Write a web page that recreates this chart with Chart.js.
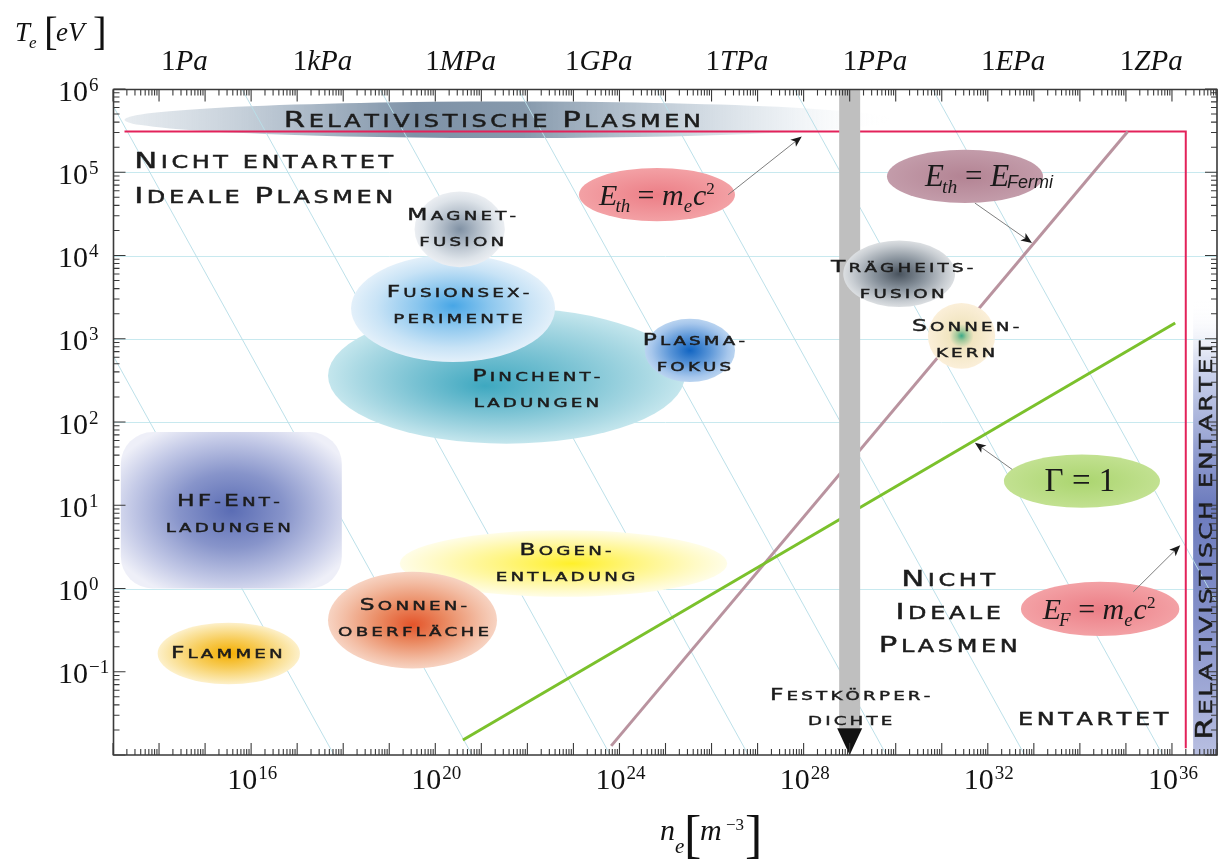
<!DOCTYPE html>
<html>
<head>
<meta charset="utf-8">
<script src="https://cdn.jsdelivr.net/npm/chart.js"></script>
<style>
  html, body { margin: 0; padding: 0; background: #ffffff; overflow: hidden; }
  canvas { display: block; }
</style>
</head>
<body>
<canvas id="plasma" width="1218" height="861" style="width:1218px;height:861px"></canvas>
<script>
const E = p => Math.pow(10, p);

// ---------- axes (decimal exponents) ----------
const densityLimitsExp = [13, 37];            // n_e in m^-3
const temperatureLimitsExp = [-2, 6];         // T_e in eV
const densityLabelExp = [16, 20, 24, 28, 32, 36];
const temperatureLabelExp = [-1, 0, 1, 2, 3, 4, 5, 6];
const temperatureGridExp = [0, 2, 3, 4, 5];
const pressureLabelExp = [0, 3, 6, 9, 12, 15, 18, 21];
const pressurePrefixes = ['', 'k', 'M', 'G', 'T', 'P', 'E', 'Z'];
const onePascalDensityExp = 14.55;            // n_e where the pressure scale reads 1 Pa

// ---------- isobars: n_e * T_e = const ----------
const isobarExp = [15.8, 18.8, 21.8, 24.8, 27.8, 30.8, 33.8, 36.8];

// ---------- boundary lines ----------
const relativisticEdgeN = [13.25, 36.30, 36.30];
const relativisticEdgeT = [5.49, 5.49, -1.92];
const fermiLineN = [23.82, 35.04];
const fermiLineT = [-1.89, 5.49];
const couplingLineN = [20.60, 36.07];
const couplingLineT = [-1.82, 3.19];
const solidDensityExp = 29.0;
const solidMarkerT = [6, -1.68, -2];          // bar top, bar end, arrow tip

// ---------- plasma regions ----------
const regionLabels = [
  'Relativistische Plasmen',
  'Pinchent-|ladungen',
  'Fusionsex-|perimente',
  'Magnet-|fusion',
  'Plasma-|fokus',
  'Trägheits-|fusion',
  'Sonnen-|kern',
  'HF-Ent-|ladungen',
  'Bogen-|entladung',
  'Sonnen-|oberfläche',
  'Flammen'
];
const regionN = [
  [13.25, 29.88], [17.67, 25.42], [18.17, 22.60], [19.55, 21.51], [24.55, 26.51],
  [28.86, 31.29], [30.70, 32.16], [13.17, 17.97], [19.23, 26.34], [17.67, 21.34], [13.97, 17.06]
];
const regionT = [
  [5.41, 5.85], [1.74, 3.37], [2.72, 4.01], [3.86, 4.77], [2.48, 3.24],
  [3.38, 4.18], [2.64, 3.43], [0.00, 1.88], [-0.10, 0.70], [-0.96, 0.20], [-1.15, -0.41]
];
const degenerateBandN = [36.46, 37];
const degenerateBandT = [-2, 3.45];

// ---------- relations with arrows ----------
const relationN = [[23.12, 26.51], [29.81, 33.20], [32.35, 35.74], [32.72, 36.16]];
const relationT = [[4.41, 5.05], [4.63, 5.27], [0.97, 1.61], [-0.57, 0.08]];
const relationArrowFrom = [[26.36, 4.73], [31.72, 4.63], [32.53, 1.43], [35.16, -0.04]];
const relationArrowTo = [[27.96, 5.43], [32.96, 4.15], [31.72, 1.75], [36.18, 0.52]];

// ---------- free area labels ----------
const areaLabels = ['Nicht entartet|Ideale Plasmen', 'Nicht|Ideale|Plasmen', 'entartet', 'Festkörper-|dichte', 'Relativistisch entartet'];
const areaLabelN = [13.46, 31.14, 34.29, 29.01, 36.72];
const areaLabelT = [4.92, -0.29, -1.57, -1.43, 0.58];

// ================= styling =================
const regionStyle = [
  { kind: 'band', dx: -15, dy: 1, text: 'big',
    stops: [[0, 'rgba(215,223,230,0.6)'], [0.2, 'rgba(180,193,206,0.95)'], [0.38, 'rgba(126,146,167,1)'],
            [0.52, 'rgba(134,153,172,1)'], [0.7, 'rgba(186,199,211,0.9)'], [0.87, 'rgba(230,236,241,0.7)'], [1, 'rgba(255,255,255,0)']] },
  { dx: 30, dy: 14, hot: [-0.12, 0.15], stops: [[0, '#3ea8c0'], [0.45, '#79c2d3'], [0.8, '#a8d8e3'], [1, '#c4e6ed']] },
  { dx: 5, dy: -3, hot: [0, -0.05], stops: [[0, '#47a6e6'], [0.35, '#8ac6ee'], [0.75, '#c8e3f6'], [1, '#e3f0fa']] },
  { dx: 2, dy: -1, stops: [[0, '#8091a4'], [0.4, '#b1bcc8'], [0.8, '#dde3e9'], [1, '#ebeef2']] },
  { dx: 4, dy: 3, stops: [[0, '#1265c2'], [0.45, '#5b96d8'], [0.85, '#a7c7ec'], [1, '#bad4f0']] },
  { dx: 3, dy: 7, stops: [[0, '#48525d'], [0.45, '#88929c'], [0.85, '#c8cdd2'], [1, '#dcdfe2']] },
  { dx: 4, dy: 3, stops: [[0, '#3aa987'], [0.14, '#9ec89a'], [0.36, '#f1e5c0'], [1, '#fbefd9']] },
  { kind: 'box', dx: -3, dy: 4, reach: 1.2, stops: [[0, '#5a6cb4'], [0.4, '#8794ca'], [0.75, '#c2c8e6'], [1, '#eeeff8']] },
  { dx: 2, dy: 0, hot: [0.05, 0], stops: [[0, '#fff02a'], [0.4, '#fff57e'], [0.8, '#fffac6'], [1, '#fffde7']] },
  { dx: 1, dy: -2, hot: [0, 0.1], stops: [[0, '#e4542a'], [0.4, '#ea8a62'], [0.8, '#f3bda4'], [1, '#f7d3c2']] },
  { dx: -2, dy: 0, stops: [[0, '#f4ae00'], [0.45, '#f7cb55'], [0.85, '#fbe6a8'], [1, '#fdf0ca']] }
];
const relationFill = [
  [[0, '#ec7e86'], [1, '#f3a1a5']],
  [[0, '#b38393'], [1, '#c39caa']],
  [[0, '#abd56f'], [1, '#c2e191']],
  [[0, '#ec7e86'], [1, '#f3a1a5']]
];
const relationText = [
  { dx: 0, size: 30, segs: [['E', 'i'], ['th', 'i', 'sub', -2], [' = ', 'r'], ['m', 'i'], ['e', 'i', 'sub'], ['c', 'i', null, 1], ['2', 'r', 'sup']] },
  { dx: 24, size: 31, segs: [['E', 'i'], ['th', 'i', 'sub', -2], [' = ', 'r'], ['E', 'i'], ['Fermi', 's', 'low', -2]] },
  { dx: -2, size: 33, segs: [['Γ', 'r'], [' = 1', 'r']] },
  { dx: -1, size: 30, segs: [['E', 'i'], ['F', 'i', 'sub', -2], [' = ', 'r'], ['m', 'i'], ['e', 'i', 'sub'], ['c', 'i', null, 1], ['2', 'r', 'sup']] }
];
const areaStyle = [
  { text: 'big', align: 'left', gap: 35 },
  { text: 'big', gap: 33 },
  { text: 'big' },
  { text: 'small', gap: 25 },
  { text: 'tall', rotate: true }
];
const TEXT = {
  big:   { cap: 16, track: 3.6, stretch: 1.4 },
  small: { cap: 12, track: 3.2, stretch: 1.42 },
  tall:  { cap: 17, track: 2.5, stretch: 1.37 }
};
const SC_FONT = '"DejaVu Sans", "Liberation Sans", sans-serif';
const INK = '#1c1c1c';
const SERIF = '"Liberation Serif", "Times New Roman", serif';

// ================= datasets =================
const pts = (ns, ts) => ns.map((n, i) => ({ x: E(n), y: E(ts[i]) }));
const datasets = [];
isobarExp.forEach(p => {
  datasets.push({
    data: [{ x: E(p - temperatureLimitsExp[1]), y: E(temperatureLimitsExp[1]) },
           { x: E(p - temperatureLimitsExp[0]), y: E(temperatureLimitsExp[0]) }],
    borderColor: 'rgba(184,222,232,0.95)', borderWidth: 1, order: 10
  });
});
datasets.push({ data: pts(relativisticEdgeN, relativisticEdgeT), borderColor: '#e3225a', borderWidth: 2, order: 6 });
datasets.push({ data: pts(fermiLineN, fermiLineT), borderColor: '#b9939f', borderWidth: 3, order: 5 });
datasets.push({ data: pts(couplingLineN, couplingLineT), borderColor: '#7bc12c', borderWidth: 3, order: 4 });
datasets.push({ data: pts([solidDensityExp, solidDensityExp], solidMarkerT.slice(0, 2)),
                borderColor: '#bfbfbf', borderWidth: 21, borderCapStyle: 'butt', order: 1 });

// ================= drawing helpers =================
function X(c, e) { return c.scales.x.getPixelForValue(E(e)); }
function Y(c, e) { return c.scales.y.getPixelForValue(E(e)); }

function smallCaps(ctx, text, x, y, st, align) {
  const big = st.cap / 0.729, small = big * 0.78;
  let w = 0;
  const chars = [...text].map((ch, i) => {
    const up = ch.toUpperCase();
    const isCap = ch !== ch.toLowerCase() && ch === up;
    const size = isCap ? big : small;
    ctx.font = size + 'px ' + SC_FONT;
    const cw = ctx.measureText(up).width * st.stretch;
    w += cw + (i ? st.track : 0);
    return { c: up, size, cw };
  });
  let cx = align === 'left' ? x : x - w / 2;
  const base = y + small * 0.729 / 2;
  ctx.lineWidth = 0.45;
  ctx.strokeStyle = ctx.fillStyle;
  chars.forEach(o => {
    ctx.font = o.size + 'px ' + SC_FONT;
    ctx.save();
    ctx.translate(cx, base);
    ctx.scale(st.stretch, 1);
    ctx.fillText(o.c, 0, 0);
    ctx.strokeText(o.c, 0, 0);
    ctx.restore();
    cx += o.cw + st.track;
  });
}
function multiLine(ctx, text, x, y, st, align, gap) {
  const lines = text.split('|');
  lines.forEach((ln, i) => smallCaps(ctx, ln, x, y + (i - (lines.length - 1) / 2) * gap, st, align));
}

function richFont(face, size) {
  if (face === 'i') return 'italic ' + size + 'px ' + SERIF;
  if (face === 's') return 'italic ' + size + 'px "Liberation Sans", Arial, sans-serif';
  return size + 'px ' + SERIF;
}
function rich(ctx, segs, cx, baseline, size) {
  const laid = segs.map(([t, face, pos, kern]) => {
    let s = size, dy = 0;
    if (pos === 'sub') { s = size * 0.63; dy = 7; }
    if (pos === 'sup') { s = size * 0.57; dy = -11; }
    if (pos === 'low') { s = size * 0.58; dy = 2; }
    ctx.font = richFont(face, s);
    return { t, face, s, dy, kern: kern || 0, w: ctx.measureText(t).width };
  });
  const total = laid.reduce((a, o) => a + o.w + o.kern, 0);
  let x = cx - total / 2;
  laid.forEach(o => {
    x += o.kern;
    ctx.font = richFont(o.face, o.s);
    ctx.fillText(o.t, x, baseline + o.dy);
    x += o.w;
  });
}

function radialFill(ctx, cx, cy, rx, ry, stops, hot, reach) {
  ctx.save();
  ctx.translate(cx, cy);
  ctx.scale(1, ry / rx);
  const r = rx * (reach || 1);
  const g = ctx.createRadialGradient((hot ? hot[0] : 0) * rx, (hot ? hot[1] : 0) * rx, 0, 0, 0, r);
  stops.forEach(([o, col]) => g.addColorStop(o, col));
  ctx.fillStyle = g;
  ctx.fill();
  ctx.restore();
}
function roundRectPath(ctx, x, y, w, h, r) {
  ctx.beginPath();
  ctx.moveTo(x + r, y);
  ctx.arcTo(x + w, y, x + w, y + h, r);
  ctx.arcTo(x + w, y + h, x, y + h, r);
  ctx.arcTo(x, y + h, x, y, r);
  ctx.arcTo(x, y, x + w, y, r);
  ctx.closePath();
}
function box(c, ns, ts) {
  const x0 = X(c, ns[0]), x1 = X(c, ns[1]), y0 = Y(c, ts[1]), y1 = Y(c, ts[0]);
  return { x0, x1, y0, y1, cx: (x0 + x1) / 2, cy: (y0 + y1) / 2, rx: (x1 - x0) / 2, ry: (y1 - y0) / 2 };
}
function arrow(ctx, x0, y0, x1, y1) {
  const a = Math.atan2(y1 - y0, x1 - x0), len = 11, hw = 4.5;
  ctx.strokeStyle = '#707070'; ctx.lineWidth = 0.9;
  ctx.beginPath(); ctx.moveTo(x0, y0); ctx.lineTo(x1 - Math.cos(a) * len * 0.7, y1 - Math.sin(a) * len * 0.7); ctx.stroke();
  ctx.fillStyle = '#1a1a1a';
  ctx.beginPath();
  ctx.moveTo(x1, y1);
  ctx.lineTo(x1 - Math.cos(a) * len + Math.sin(a) * hw, y1 - Math.sin(a) * len - Math.cos(a) * hw);
  ctx.lineTo(x1 - Math.cos(a) * len * 0.75, y1 - Math.sin(a) * len * 0.75);
  ctx.lineTo(x1 - Math.cos(a) * len - Math.sin(a) * hw, y1 - Math.sin(a) * len + Math.cos(a) * hw);
  ctx.closePath(); ctx.fill();
}
function logTicks(lo, hi) {
  const out = [];
  for (let k = lo; k < hi; k++) for (let d = 1; d < 10; d++) out.push({ e: k + Math.log10(d), major: d === 1 });
  out.push({ e: hi, major: true });
  return out;
}

// ================= plugin: backgrounds, regions, frame and labels =================
const plasmaDiagram = {
  id: 'plasmaDiagram',
  beforeDatasetsDraw(c) {
    const ctx = c.ctx, a = c.chartArea;
    ctx.save();
    ctx.beginPath(); ctx.rect(a.left, a.top, a.right - a.left, a.bottom - a.top); ctx.clip();
    // horizontal grid
    ctx.strokeStyle = 'rgba(200,233,239,1)'; ctx.lineWidth = 1;
    temperatureGridExp.forEach(e => {
      const y = Math.round(Y(c, e)) + 0.5;
      ctx.beginPath(); ctx.moveTo(a.left, y); ctx.lineTo(a.right, y); ctx.stroke();
    });
    // relativistic band along the top
    const b = box(c, regionN[0], regionT[0]);
    const g = ctx.createLinearGradient(b.x0, 0, b.x1, 0);
    regionStyle[0].stops.forEach(([o, col]) => g.addColorStop(o, col));
    ctx.fillStyle = g;
    ctx.beginPath(); ctx.ellipse(b.cx, b.cy, b.rx, b.ry, 0, 0, Math.PI * 2); ctx.fill();
    // relativistically degenerate strip on the right
    const d = box(c, degenerateBandN, degenerateBandT);
    const gv = ctx.createLinearGradient(0, d.y0, 0, d.y1);
    [[0, 'rgba(255,255,255,0)'], [0.15, 'rgba(205,212,236,1)'], [0.45, 'rgba(108,123,189,1)'],
     [0.7, 'rgba(132,144,201,1)'], [1, 'rgba(184,191,225,1)']].forEach(([o, col]) => gv.addColorStop(o, col));
    ctx.fillStyle = gv;
    ctx.fillRect(d.x0, d.y0, d.x1 - d.x0, d.y1 - d.y0);
    ctx.restore();
  },
  afterDatasetsDraw(c) {
    const ctx = c.ctx, a = c.chartArea;
    ctx.save();
    // solid density arrow head
    const sx = X(c, solidDensityExp), sy0 = Y(c, solidMarkerT[1]), sy1 = Y(c, solidMarkerT[2]);
    ctx.fillStyle = '#111';
    ctx.beginPath(); ctx.moveTo(sx - 12.5, sy0); ctx.lineTo(sx + 12.5, sy0); ctx.lineTo(sx, sy1); ctx.closePath(); ctx.fill();

    // plasma regions
    for (let i = 1; i < regionLabels.length; i++) {
      const s = regionStyle[i], b = box(c, regionN[i], regionT[i]);
      if (s.kind === 'box') roundRectPath(ctx, b.x0, b.y0, b.x1 - b.x0, b.y1 - b.y0, 32);
      else { ctx.beginPath(); ctx.ellipse(b.cx, b.cy, b.rx, b.ry, 0, 0, Math.PI * 2); }
      radialFill(ctx, b.cx, b.cy, b.rx, b.ry, s.stops, s.hot, s.reach);
    }
    // relation ellipses
    relationN.forEach((ns, i) => {
      const b = box(c, ns, relationT[i]);
      ctx.beginPath(); ctx.ellipse(b.cx, b.cy, b.rx, b.ry, 0, 0, Math.PI * 2);
      radialFill(ctx, b.cx, b.cy, b.rx, b.ry, relationFill[i]);
    });

    // region labels
    ctx.fillStyle = INK;
    regionLabels.forEach((lab, i) => {
      const s = regionStyle[i], b = box(c, regionN[i], regionT[i]);
      multiLine(ctx, lab, b.cx + s.dx, b.cy + s.dy, TEXT[s.text || 'small'], 'center', 26);
    });
    // area labels
    areaLabels.forEach((lab, i) => {
      const s = areaStyle[i], x = X(c, areaLabelN[i]), y = Y(c, areaLabelT[i]);
      if (s.rotate) {
        ctx.save(); ctx.translate(x, y); ctx.rotate(-Math.PI / 2);
        smallCaps(ctx, lab, 0, 0, TEXT[s.text], 'center');
        ctx.restore();
      } else {
        multiLine(ctx, lab, x, y, TEXT[s.text], s.align || 'center', s.gap || 0);
      }
    });
    // relation formulas and arrows
    relationN.forEach((ns, i) => {
      const b = box(c, ns, relationT[i]), t = relationText[i];
      ctx.fillStyle = '#1a1a1a';
      rich(ctx, t.segs, b.cx + t.dx, b.cy + 10, t.size);
      const f = relationArrowFrom[i], to = relationArrowTo[i];
      arrow(ctx, X(c, f[0]), Y(c, f[1]), X(c, to[0]), Y(c, to[1]));
    });

    // frame
    const L = a.left + 0.5, R = a.right - 1, T = a.top + 0.5, B = a.bottom;
    ctx.strokeStyle = '#3a3a3a'; ctx.lineWidth = 1.6;
    ctx.beginPath(); ctx.moveTo(L, T); ctx.lineTo(R, T); ctx.lineTo(R, B); ctx.lineTo(L, B); ctx.closePath(); ctx.stroke();
    ctx.lineWidth = 1.1;
    logTicks(densityLimitsExp[0], densityLimitsExp[1]).forEach(t => {
      const x = X(c, t.e), len = t.major ? 12 : 6;
      ctx.beginPath(); ctx.moveTo(x, B); ctx.lineTo(x, B - len); ctx.moveTo(x, T); ctx.lineTo(x, T + len); ctx.stroke();
    });
    logTicks(temperatureLimitsExp[0], temperatureLimitsExp[1]).forEach(t => {
      const y = Y(c, t.e), len = t.major ? 12 : 6;
      ctx.beginPath(); ctx.moveTo(L, y); ctx.lineTo(L + len, y); ctx.moveTo(R, y); ctx.lineTo(R - len, y); ctx.stroke();
    });

    // tick labels
    ctx.fillStyle = '#111';
    const sup = e => (e < 0 ? '\u2212' + Math.abs(e) : String(e));
    densityLabelExp.forEach(e => {
      ctx.font = '30px ' + SERIF; const wb = ctx.measureText('10').width;
      ctx.font = '19px ' + SERIF; const we = ctx.measureText(sup(e)).width;
      const x0 = X(c, e) - (wb + 1 + we) / 2 + 1;
      ctx.font = '30px ' + SERIF; ctx.fillText('10', x0, B + 34);
      ctx.font = '19px ' + SERIF; ctx.fillText(sup(e), x0 + wb + 1, B + 24);
    });
    temperatureLabelExp.forEach(e => {
      const y = Y(c, e);
      ctx.font = '30px ' + SERIF; const wb = ctx.measureText('10').width;
      ctx.fillText('10', 58, y + 11.5);
      ctx.font = '19px ' + SERIF; ctx.fillText(sup(e), 58 + wb + 1, y + 1.5);
    });
    pressureLabelExp.forEach((e, i) => {
      const x = c.scales.xTop.getPixelForValue(E(e));
      rich(ctx, [['1', 'r'], [pressurePrefixes[i] + 'Pa', 'i']], x, 70, 29);
    });

    // axis titles
    ctx.font = 'italic 27px ' + SERIF; ctx.fillText('T', 15, 41);
    ctx.font = 'italic 17px ' + SERIF; ctx.fillText('e', 29, 48);
    ctx.font = '41px ' + SERIF; ctx.fillText('[', 44, 45);
    ctx.font = 'italic 27px ' + SERIF; ctx.fillText('eV', 56, 41);
    ctx.font = '41px ' + SERIF; ctx.fillText(']', 93, 45);

    ctx.font = 'italic 30px ' + SERIF; ctx.fillText('n', 660, 840);
    ctx.font = 'italic 21px ' + SERIF; ctx.fillText('e', 675, 853);
    ctx.font = '52px ' + SERIF; ctx.fillText('[', 684, 852);
    ctx.font = 'italic 30px ' + SERIF; ctx.fillText('m', 700, 840);
    ctx.font = '17px ' + SERIF; ctx.fillText('\u22123', 726, 830);
    ctx.font = '52px ' + SERIF; ctx.fillText(']', 745, 852);
    ctx.restore();
  }
};

new Chart(document.getElementById('plasma'), {
  type: 'line',
  data: { datasets },
  options: {
    responsive: false,
    animation: false,
    devicePixelRatio: 1,
    layout: { padding: { left: 113, top: 89, right: 0, bottom: 106 } },
    elements: { point: { radius: 0, hoverRadius: 0 }, line: { tension: 0 } },
    scales: {
      x: { type: 'logarithmic', display: false, min: E(densityLimitsExp[0]), max: E(densityLimitsExp[1]) },
      xTop: { type: 'logarithmic', display: false, position: 'top',
              min: E(densityLimitsExp[0] - onePascalDensityExp), max: E(densityLimitsExp[1] - onePascalDensityExp) },
      y: { type: 'logarithmic', display: false, min: E(temperatureLimitsExp[0]), max: E(temperatureLimitsExp[1]) }
    },
    plugins: { legend: { display: false }, tooltip: { enabled: false } },
    events: []
  },
  plugins: [plasmaDiagram]
});
</script>
</body>
</html>
